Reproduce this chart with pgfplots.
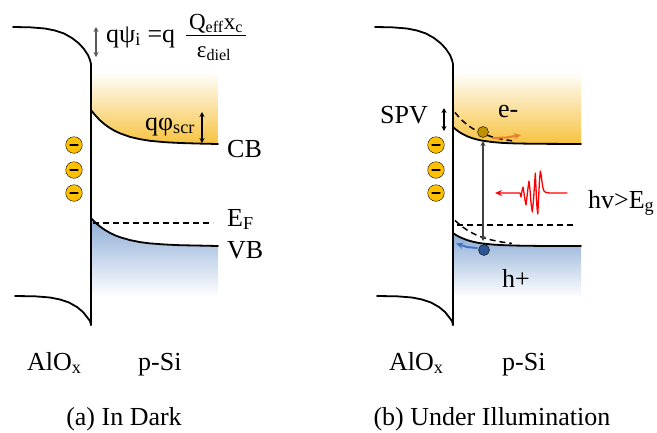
\documentclass[border=0pt]{standalone}
\usepackage{pgfplots}
\pgfplotsset{compat=1.18}
\usepackage{fontspec}
\setmainfont{Liberation Serif}
\usetikzlibrary{arrows.meta}
\definecolor{coin}{RGB}{255,192,0}
\definecolor{ylw}{RGB}{247,194,62}
\definecolor{blu}{RGB}{140,172,214}
\definecolor{edot}{RGB}{191,144,0}
\definecolor{hdot}{RGB}{47,85,151}
\definecolor{oarr}{RGB}{237,125,49}
\definecolor{barr}{RGB}{68,114,196}
\begin{document}
\begin{tikzpicture}
\begin{axis}[width=657pt,height=432pt,scale only axis,
  xmin=0,xmax=657,ymin=0,ymax=432,y dir=reverse,
  axis lines=none,clip=false,
  every axis plot/.append style={line join=round,line cap=round}]
\path (rel axis cs:0,0) rectangle (rel axis cs:1,1);
% ---------- fills (a)
\addplot[draw=none,top color=white,bottom color=ylw] coordinates {
(91,72)(218,72)(218,144)(200,143.6)(180,143.0)(165,142.2)(150,140.8)(140,139.2)(130,136.9)(120,133.3)(115,131.0)(110,128.1)(105,124.6)(100,120.3)(97,117.2)(94,113.8)(91,110)};
\addplot[draw=none,top color=blu,bottom color=white] coordinates {
(91,218)(94,221.2)(97,224.0)(100,226.5)(105,230.0)(110,232.9)(115,235.3)(120,237.2)(130,240.1)(140,242.1)(150,243.4)(165,244.5)(180,245.2)(200,245.6)(218,246)(218,297)(91,297)};
% ---------- fills (b)
\addplot[draw=none,top color=white,bottom color=ylw] coordinates {
(453,72)(581,72)(581,144)(537,143.8)(517,143.5)(502,142.9)(492,142.0)(482,140.6)(477,139.5)(472,138.1)(467,136.2)(462,133.7)(459,131.8)(456,129.6)(453,127)};
\addplot[draw=none,top color=blu,bottom color=white] coordinates {
(453,233)(456,235.0)(459,236.7)(462,238.1)(467,240.0)(472,241.5)(477,242.6)(482,243.4)(492,244.5)(502,245.1)(517,245.6)(537,245.9)(581,246)(581,297)(453,297)};
% ---------- dashed lines
\addplot[black,line width=1.5pt,dash pattern=on 6pt off 4pt,line cap=butt] coordinates {(93,223)(213,223)};
\addplot[black,line width=1.5pt,dash pattern=on 6pt off 4pt,line cap=butt] coordinates {(457,225)(575,225)};
\addplot[black,line width=1.5pt,dash pattern=on 6pt off 4pt,line cap=butt] coordinates {
(455,112.5)(459,117.2)(462,120.3)(467,124.6)(472,128.1)(477,131.0)(482,133.3)(492,136.9)(502,139.2)(512,140.8)};
\addplot[black,line width=1.5pt,dash pattern=on 6pt off 4pt,line cap=butt] coordinates {
(455,220.5)(459,224.0)(462,226.5)(467,230.0)(472,232.9)(477,235.3)(482,237.2)(492,240.1)(502,242.1)(512,243.4)};
% ---------- oxide outlines (a)
\addplot[black,line width=1.8pt] coordinates {
(13,27)(30,27.3)(45,28.5)(55,30.5)(64,33.5)(72,38)(79,43.5)(84,49)(88,55)(90,60)(91,64)(91,325)};
\addplot[black,line width=1.8pt] coordinates {
(15,296)(35,296.3)(50,297.5)(60,299.5)(69,302.5)(77,307)(83,312)(87,317)(90,321)(91,325)};
% ---------- oxide outlines (b)
\addplot[black,line width=1.8pt] coordinates {
(375,27)(392,27.3)(407,28.5)(417,30.5)(426,33.5)(434,38)(441,43.5)(446,49)(450,55)(452,60)(453,64)(453,325)};
\addplot[black,line width=1.8pt] coordinates {
(377,296)(397,296.3)(412,297.5)(422,299.5)(431,302.5)(439,307)(445,312)(449,317)(452,321)(453,325)};
% ---------- bands (a)
\addplot[black,line width=1.8pt] coordinates {
(91,110)(94,113.8)(97,117.2)(100,120.3)(105,124.6)(110,128.1)(115,131.0)(120,133.3)(130,136.9)(140,139.2)(150,140.8)(165,142.2)(180,143.0)(200,143.6)(218,144)};
\addplot[black,line width=1.8pt] coordinates {
(91,218)(94,221.2)(97,224.0)(100,226.5)(105,230.0)(110,232.9)(115,235.3)(120,237.2)(130,240.1)(140,242.1)(150,243.4)(165,244.5)(180,245.2)(200,245.6)(218,246)};
% ---------- bands (b)
\addplot[black,line width=1.8pt] coordinates {
(453,127)(456,129.6)(459,131.8)(462,133.7)(467,136.2)(472,138.1)(477,139.5)(482,140.6)(492,142.0)(502,142.9)(517,143.5)(537,143.8)(581,144)};
\addplot[black,line width=1.8pt] coordinates {
(453,233)(456,235.0)(459,236.7)(462,238.1)(467,240.0)(472,241.5)(477,242.6)(482,243.4)(492,244.5)(502,245.1)(517,245.6)(537,245.9)(581,246)};
% ---------- coins
\addplot[only marks,mark=*,mark size=8.3pt,mark options={fill=coin,draw=none}] coordinates {
(74,145)(74,170)(74,193)(436,145)(436,170)(436,193)};
\addplot[only marks,mark=-,mark size=3.6pt,mark options={line width=2.6pt,draw=black}] coordinates {
(74,145)(74,170)(74,193)(436,145)(436,170)(436,193)};
% ---------- carriers
\addplot[oarr,line width=2pt,-{Stealth[length=7pt,width=6pt]}] coordinates {(493,138)(506,137.5)(521,135)};
\addplot[barr,line width=2pt,-{Stealth[length=7pt,width=6pt]}] coordinates {(477,248)(467,247)(456,243.5)};
\addplot[only marks,mark=*,mark size=5.5pt,mark options={fill=edot,draw=none}] coordinates {(483,132)};
\addplot[only marks,mark=*,mark size=5.5pt,mark options={fill=hdot,draw=none}] coordinates {(484,250)};
% ---------- photon
\addplot[red,line width=1.3pt,-{Stealth[length=7pt,width=6pt]}] coordinates {
(567,193)(550,193)(546,192.5)(544,191)(543,188)(542,182)(541,174)(540.3,171)(539.5,180)(538.5,200)(537.8,214)(537,208)(536,188)(535.3,173)(534.5,185)(533.5,200)(532.3,212)(531,203)(530,190)(529,181)(528,188)(527,197)(526,205)(525,200)(524,193)(523,187)(522,191)(521,197)(520,193)(495,193)};
% ---------- arrows
\draw[black!65,line width=1.1pt,{Stealth[length=5pt,width=5pt]}-{Stealth[length=5pt,width=5pt]}] (axis cs:96,27) -- (axis cs:96,57);
\draw[black,line width=1.1pt,{Stealth[length=5pt,width=5pt]}-{Stealth[length=5pt,width=5pt]}] (axis cs:202,112) -- (axis cs:202,143);
\draw[black,line width=1.1pt,{Stealth[length=5pt,width=5pt]}-{Stealth[length=5pt,width=5pt]}] (axis cs:444,108) -- (axis cs:444,131);
\draw[black!75,line width=1.2pt,{Stealth[length=5pt,width=5pt]}-{Stealth[length=5pt,width=5pt]}] (axis cs:483,141) -- (axis cs:483,241);
% ---------- text
\node[anchor=base west,inner sep=0pt,font=\fontsize{26}{30}\selectfont] at (axis cs:106,42) {qψ\textsubscript{i} =q};
\node[anchor=base,inner sep=0pt,font=\fontsize{23}{27}\selectfont] at (axis cs:216,29) {Q\textsubscript{eff}x\textsubscript{c}};
\draw[black,line width=1pt] (axis cs:186,35) -- (axis cs:246,35);
\node[anchor=base,inner sep=0pt,font=\fontsize{23}{27}\selectfont] at (axis cs:214,57) {ε\textsubscript{diel}};
\node[anchor=base west,inner sep=0pt,font=\fontsize{26}{30}\selectfont] at (axis cs:145,130) {qφ\textsubscript{scr}};
\node[anchor=base west,inner sep=0pt,font=\fontsize{26}{30}\selectfont] at (axis cs:227,157) {CB};
\node[anchor=base west,inner sep=0pt,font=\fontsize{26}{30}\selectfont] at (axis cs:227,226) {E\textsubscript{F}};
\node[anchor=base west,inner sep=0pt,font=\fontsize{26}{30}\selectfont] at (axis cs:227,258) {VB};
\node[anchor=base west,inner sep=0pt,font=\fontsize{26}{30}\selectfont] at (axis cs:380,123) {SPV};
\node[anchor=base west,inner sep=0pt,font=\fontsize{26}{30}\selectfont] at (axis cs:498,117) {e-};
\node[anchor=base west,inner sep=0pt,font=\fontsize{26}{30}\selectfont] at (axis cs:588,208) {hv>E\textsubscript{g}};
\node[anchor=base west,inner sep=0pt,font=\fontsize{26}{30}\selectfont] at (axis cs:502,287) {h+};
\node[anchor=base west,inner sep=0pt,font=\fontsize{26}{30}\selectfont] at (axis cs:27,370) {AlO\textsubscript{x}};
\node[anchor=base west,inner sep=0pt,font=\fontsize{26}{30}\selectfont] at (axis cs:138,370) {p-Si};
\node[anchor=base west,inner sep=0pt,font=\fontsize{26}{30}\selectfont] at (axis cs:389,370) {AlO\textsubscript{x}};
\node[anchor=base west,inner sep=0pt,font=\fontsize{26}{30}\selectfont] at (axis cs:502,370) {p-Si};
\node[anchor=base,inner sep=0pt,font=\fontsize{26}{30}\selectfont] at (axis cs:124,425) {(a) In Dark};
\node[anchor=base,inner sep=0pt,font=\fontsize{26}{30}\selectfont] at (axis cs:492,425) {(b) Under Illumination};
\end{axis}
\end{tikzpicture}
\end{document}
